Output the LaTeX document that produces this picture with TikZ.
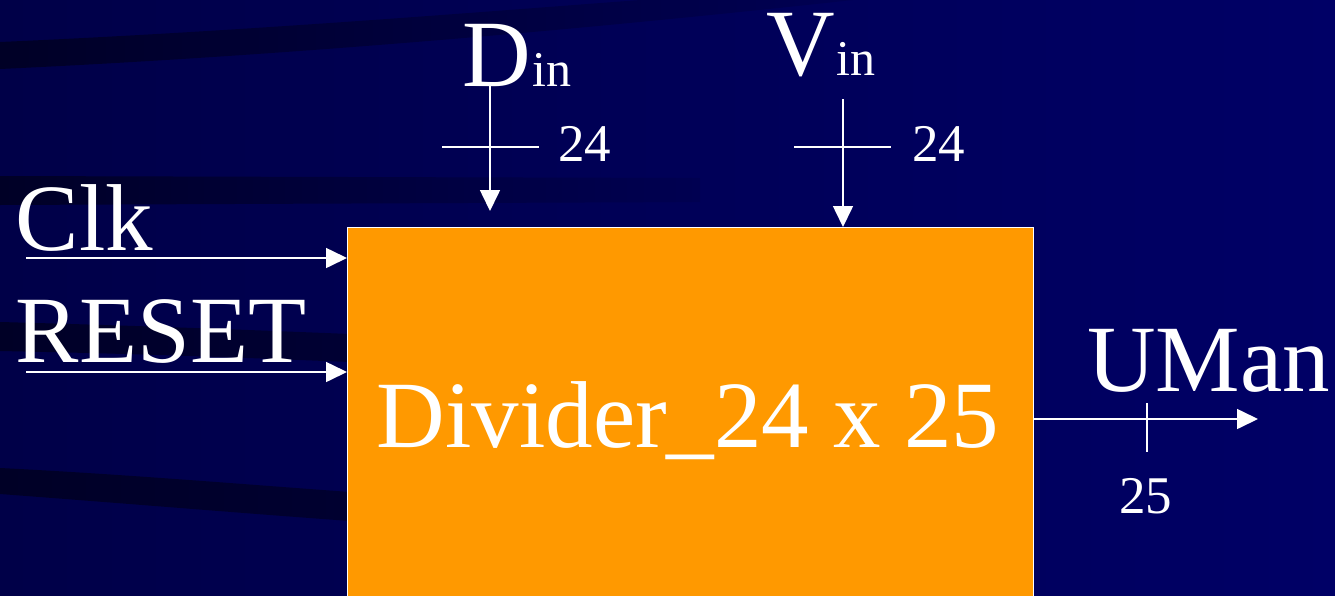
\documentclass[tikz,border=0pt]{standalone}
\usepackage{fontspec}
\setmainfont{Liberation Serif}
\usetikzlibrary{arrows.meta}
\definecolor{bgL}{RGB}{0,0,72}
\definecolor{bgR}{RGB}{0,0,102}
\definecolor{stripe}{RGB}{0,0,38}
\definecolor{boxorange}{RGB}{255,153,0}
\newcommand\hugefnt{\fontsize{95}{100}\selectfont}
\newcommand\subfnt{\fontsize{50}{53}\selectfont}
\newcommand\numfnt{\fontsize{53}{56}\selectfont}
\begin{document}
\begin{tikzpicture}[x=1pt,y=-1pt,
  txt/.style={text=white,inner sep=0pt,outer sep=0pt},
  sig/.style={draw=white,line width=1.6pt,-{Triangle[length=21pt,width=20pt]}},
  tick/.style={draw=white,line width=1.6pt}]
\useasboundingbox (0,0) rectangle (1335,595);
\clip (0,0) rectangle (1335,595);
% background
\shade[left color=bgL,right color=bgR] (0,0) rectangle (1335,595);
% brush-stroke stripes
\shade[left color=stripe,right color=bgL!60!bgR] (0,42) .. controls (250,31) and (480,12) .. (680,-3) -- (880,-3) .. controls (600,28) and (300,55) .. (0,69) -- cycle;
\shade[left color=stripe,right color=bgL!70!bgR] (0,176) -- (700,178) -- (700,202) -- (0,205) -- cycle;
\shade[left color=stripe,right color=stripe!60!bgL] (0,322) .. controls (150,326) and (250,330) .. (350,334) -- (350,362) .. controls (250,358) and (150,354) .. (0,351) -- cycle;
\shade[left color=stripe,right color=stripe!70!bgL] (0,468) .. controls (120,474) and (240,484) .. (350,492) -- (350,521) .. controls (240,513) and (120,503) .. (0,494) -- cycle;
% main block
\node[draw=white,line width=1.2pt,fill=boxorange,anchor=north west,minimum width=686pt,minimum height=380pt,inner sep=0pt] (box) at (347,227) {};
\node[txt,anchor=base] (name) at (688,447) {\hugefnt Divider\_24 x 25};
% labels
\node[txt,anchor=base west] (clk) at (16,250) {\hugefnt Clk};
\node[txt,anchor=base west] (rst) at (16,362) {\hugefnt RESET};
\node[txt,anchor=base west] (din) at (462,86) {\hugefnt D\kern2pt\subfnt in};
\node[txt,anchor=base west] (vin) at (766,75) {\hugefnt V\kern2pt\subfnt in};
\node[txt,anchor=base west] (uman) at (1087,391) {\hugefnt UMan};
\node[txt,anchor=base west] (w1) at (558,161) {\numfnt 24};
\node[txt,anchor=base west] (w2) at (912,161) {\numfnt 24};
\node[txt,anchor=base west] (w3) at (1119,513) {\numfnt 25};
% connector end points
\coordinate (clkS) at (26,258);
\coordinate (rstS) at (26,372);
\coordinate (dS) at (490,86);
\coordinate (dE) at (490,211);
\coordinate (vS) at (843,99);
\coordinate (oE) at (1258,419);
% connectors
\draw[sig] (clkS) -- (clkS -| box.west);
\draw[sig] (rstS) -- (rstS -| box.west);
\draw[sig] (dS) -- (dE);
\draw[sig] (vS) -- (vS |- box.north);
\draw[sig] (oE -| box.east) -- (oE);
% bus width ticks
\draw[tick] (442,147) -- (539,147);
\draw[tick] (794,147) -- (891,147);
\draw[tick] (1147,403) -- (1147,452);
\end{tikzpicture}
\end{document}
